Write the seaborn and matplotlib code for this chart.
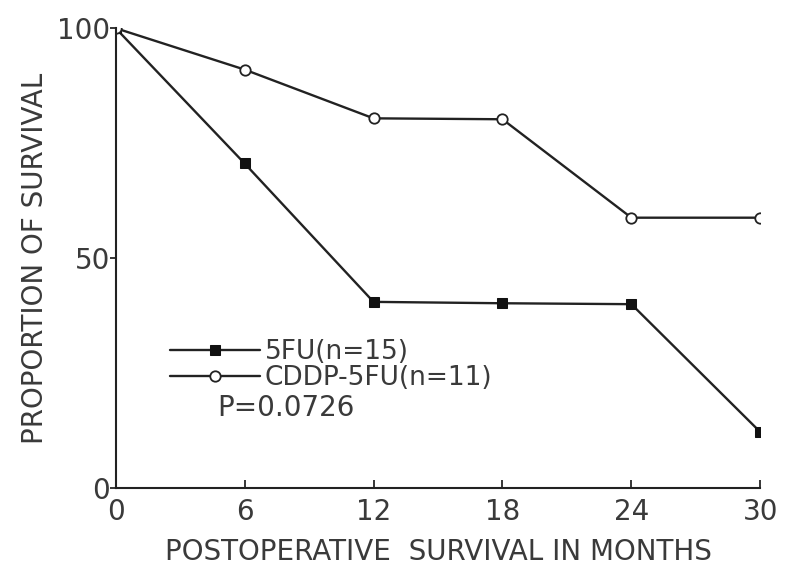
import pandas as pd
import matplotlib
matplotlib.use('Agg')
import matplotlib.pyplot as plt
import seaborn as sns

# survival curves
months = [0, 6, 12, 18, 24, 30]
fu_surv = [100, 70.6, 40.5, 40.2, 40.0, 12.2]
cddp_surv = [100, 91.0, 80.4, 80.2, 58.8, 58.8]
x_ticks = [0, 6, 12, 18, 24, 30]
y_ticks = [0, 50, 100]

sns.set_style('ticks')
plt.rcParams['font.family'] = ['DejaVu Sans']

fig = plt.figure(figsize=(7.92, 5.75), dpi=100)
ax = fig.add_axes([0.146, 0.151, 0.814, 0.80])

txt = '#3a3a3a'
fs = 20
sns.lineplot(x=months, y=fu_surv, ax=ax, color='#222222', lw=1.7,
             marker='s', markersize=7, markerfacecolor='#111111',
             markeredgecolor='#111111', label='5FU(n=15)')
sns.lineplot(x=months, y=cddp_surv, ax=ax, color='#222222', lw=1.7,
             marker='o', markersize=7.5, markerfacecolor='white',
             markeredgecolor='#222222', markeredgewidth=1.3,
             label='CDDP-5FU(n=11)')

ax.set_xlim(0, 30)
ax.set_ylim(0, 100)
ax.set_xticks(x_ticks)
ax.set_yticks(y_ticks)
ax.tick_params(axis='x', direction='in', length=6, width=1.3, labelsize=fs,
               labelcolor=txt, pad=7)
ax.tick_params(axis='y', direction='out', length=4, width=1.3, labelsize=fs,
               labelcolor=txt, pad=0)
for s in ['top', 'right']:
    ax.spines[s].set_visible(False)
for s in ['left', 'bottom']:
    ax.spines[s].set_linewidth(1.5)
    ax.spines[s].set_color('#222222')

ax.set_xlabel('POSTOPERATIVE  SURVIVAL IN MONTHS', fontsize=fs, color=txt, labelpad=9)
ax.set_ylabel('PROPORTION OF SURVIVAL', fontsize=fs, color=txt, labelpad=6)

leg = ax.legend(loc='center left', bbox_to_anchor=(0.084, 0.267), frameon=False,
                fontsize=19, handlelength=3.4, handletextpad=0.2,
                labelspacing=0.0, borderaxespad=0, borderpad=0)
for t in leg.get_texts():
    t.set_color(txt)
ax.text(0.157, 0.175, 'P=0.0726', transform=ax.transAxes, fontsize=fs,
        color=txt, va='center')

plt.savefig('out.png', dpi=100)
plt.close()
